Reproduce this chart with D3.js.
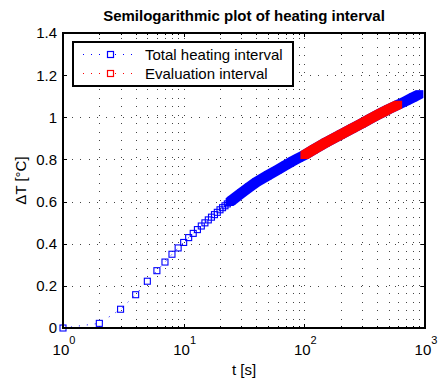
<!DOCTYPE html>
<html lang="en">
<meta charset="utf-8"/>
<head>
<script src="https://d3js.org/d3.v7.min.js"></script>
</head>

<style>
  body { margin: 0; background: #fff; }
  text { font-family: Arial, "Liberation Sans", Helvetica, sans-serif; fill: #000; }
  .grid line { stroke: #444; stroke-width: 1; stroke-dasharray: 1,7.5; shape-rendering: crispEdges; }
  .frame { fill: none; stroke: #000; stroke-width: 1.5; shape-rendering: crispEdges; }
  .tick { stroke: #000; stroke-width: 1; shape-rendering: crispEdges; }
</style>
<body>
<script>
// values: time [s] and temperature rise [°C]
var tEarly  = [1, 2, 3, 4, 5, 6, 7, 8, 9, 10, 11, 12, 13, 14, 15, 16, 17, 18, 19, 20, 21, 22, 23, 24];
var dtEarly = [0.000, 0.022, 0.089, 0.158, 0.222, 0.272, 0.313, 0.350, 0.380, 0.406, 0.429, 0.449,
               0.467, 0.484, 0.499, 0.513, 0.526, 0.538, 0.549, 0.561, 0.571, 0.580, 0.589, 0.597];
var tLate  = [25, 30, 35, 40, 50, 60, 70, 80, 90, 100, 120, 150, 200, 250, 300, 350, 400, 450, 500, 600, 700, 800, 900];
var dtLate = [0.605, 0.640, 0.669, 0.692, 0.725, 0.750, 0.773, 0.792, 0.807, 0.820, 0.848, 0.880,
              0.918, 0.947, 0.971, 0.992, 1.010, 1.025, 1.039, 1.060, 1.078, 1.095, 1.110];
var evalStart = 100, evalEnd = 600;
var denseFrom = 24;

var yTicks = [0, 0.2, 0.4, 0.6, 0.8, 1, 1.2, 1.4];
var yTickLabels = ["0", "0.2", "0.4", "0.6", "0.8", "1", "1.2", "1.4"];
var xTicks = [1, 10, 100, 1000];
var xTickExp = ["0", "1", "2", "3"];
var legendLabels = ["Total heating interval", "Evaluation interval"];
var seriesColors = ["#0000ff", "#ff0000"];

var W = 441, H = 378;
var margin = {top: 33, right: 16, bottom: 50, left: 63};

var svg = d3.select("body").append("svg")
    .attr("width", W)
    .attr("height", H);

var x = d3.scaleLog().domain([1, 1000]).range([margin.left, W - margin.right]);
var y = d3.scaleLinear().domain([0, 1.4]).range([H - margin.bottom, margin.top]);

var x0 = x.range()[0], x1 = x.range()[1], y0 = y.range()[0], y1 = y.range()[1];

// minor positions of the log axis
var minorX = [];
[1, 10, 100].forEach(function(d) {
  for (var k = 2; k <= 9; k++) minorX.push(d * k);
});

// grid
var grid = svg.append("g").attr("class", "grid");
grid.selectAll(".gx").data(minorX.concat([10, 100])).enter().append("line")
    .attr("x1", function(d) { return Math.round(x(d)) + 0.5; })
    .attr("x2", function(d) { return Math.round(x(d)) + 0.5; })
    .attr("y1", y0).attr("y2", y1);
grid.selectAll(".gy").data(yTicks.slice(1, -1)).enter().append("line")
    .attr("x1", x0).attr("x2", x1)
    .attr("y1", function(d) { return Math.round(y(d)) + 0.5; })
    .attr("y2", function(d) { return Math.round(y(d)) + 0.5; });

// ticks (inside, all four sides)
var ticks = svg.append("g");
yTicks.forEach(function(d) {
  var yy = Math.round(y(d)) + 0.5;
  ticks.append("line").attr("class", "tick").attr("x1", x0).attr("x2", x0 + 4).attr("y1", yy).attr("y2", yy);
  ticks.append("line").attr("class", "tick").attr("x1", x1 - 4).attr("x2", x1).attr("y1", yy).attr("y2", yy);
});
xTicks.concat(minorX).forEach(function(d) {
  var xx = Math.round(x(d)) + 0.5;
  var len = xTicks.indexOf(d) >= 0 ? 4 : 2;
  ticks.append("line").attr("class", "tick").attr("x1", xx).attr("x2", xx).attr("y1", y0).attr("y2", y0 - len);
  ticks.append("line").attr("class", "tick").attr("x1", xx).attr("x2", xx).attr("y1", y1).attr("y2", y1 + len);
});

// data
var all = tEarly.map(function(t, i) { return [t, dtEarly[i]]; })
    .concat(tLate.map(function(t, i) { return [t, dtLate[i]]; }));
var evalPts = all.filter(function(d) { return d[0] >= evalStart && d[0] <= evalEnd; });

var h = 3.5;   // half of the outer marker size
var hb = 3.9;  // half size used for the dense band

function sweep(g, pts, color) {
  var px = pts.map(function(d) { return [x(d[0]), y(d[1])]; });
  for (var i = 0; i < px.length - 1; i++) {
    var corners = [];
    [px[i], px[i + 1]].forEach(function(c) {
      corners.push([c[0] - hb, c[1] - hb], [c[0] + hb, c[1] - hb], [c[0] + hb, c[1] + hb], [c[0] - hb, c[1] + hb]);
    });
    var hull = d3.polygonHull(corners);
    g.append("path").attr("d", "M" + hull.join("L") + "Z").attr("fill", color);
  }
}

var plot = svg.append("g");

plot.append("path")
    .datum(all)
    .attr("fill", "none")
    .attr("stroke", seriesColors[0])
    .attr("stroke-width", 1)
    .attr("stroke-dasharray", "1,7")
    .attr("d", d3.line().x(function(d) { return x(d[0]); }).y(function(d) { return y(d[1]); }));

plot.selectAll(".m").data(all).enter().append("rect")
    .attr("x", function(d) { return x(d[0]) - h + 0.5; })
    .attr("y", function(d) { return y(d[1]) - h + 0.5; })
    .attr("width", 2 * h - 1).attr("height", 2 * h - 1)
    .attr("fill", "none")
    .attr("stroke", seriesColors[0])
    .attr("stroke-width", 1.1);

sweep(plot, all.filter(function(d) { return d[0] >= denseFrom; }), seriesColors[0]);
sweep(plot, evalPts, seriesColors[1]);

// frame
svg.append("rect").attr("class", "frame")
    .attr("x", x0).attr("y", y1).attr("width", x1 - x0).attr("height", y0 - y1);

// tick labels
svg.selectAll(".yl").data(yTicks).enter().append("text")
    .attr("x", x0 - 6)
    .attr("y", function(d) { return y(d); })
    .attr("dy", "0.36em")
    .attr("text-anchor", "end")
    .style("font-size", "15px")
    .text(function(d, i) { return yTickLabels[i]; });

var xl = svg.selectAll(".xl").data(xTicks).enter().append("text")
    .attr("x", function(d) { return x(d) + 1; })
    .attr("y", 355)
    .attr("text-anchor", "middle")
    .style("font-size", "15px");
xl.append("tspan").text("10");
xl.append("tspan").attr("dy", -11).style("font-size", "11px").text(function(d, i) { return xTickExp[i]; });

// title and axis labels
svg.append("text")
    .attr("x", (x0 + x1) / 2).attr("y", 21)
    .attr("text-anchor", "middle")
    .style("font-size", "15px").style("font-weight", "bold")
    .text("Semilogarithmic plot of heating interval");

svg.append("text")
    .attr("x", (x0 + x1) / 2).attr("y", 375)
    .attr("text-anchor", "middle")
    .style("font-size", "15px")
    .text("t [s]");

svg.append("text")
    .attr("transform", "translate(26," + ((y0 + y1) / 2) + ") rotate(-90)")
    .attr("text-anchor", "middle")
    .style("font-size", "15px")
    .text("ΔT [°C]");

// legend
var lg = svg.append("g");
lg.append("rect")
    .attr("x", 73).attr("y", 42).attr("width", 220).attr("height", 44)
    .attr("fill", "#fff").attr("stroke", "#000").attr("stroke-width", 2);
legendLabels.forEach(function(label, i) {
  var yy = 54.5 + i * 19;
  lg.append("line")
      .attr("x1", 83).attr("x2", 138).attr("y1", yy).attr("y2", yy)
      .attr("stroke", seriesColors[i]).attr("stroke-width", 1)
      .attr("stroke-dasharray", "1,7");
  lg.append("rect")
      .attr("x", 107.5).attr("y", yy - 3).attr("width", 6).attr("height", 6)
      .attr("fill", "#fff").attr("stroke", seriesColors[i]).attr("stroke-width", 1.2);
  lg.append("text")
      .attr("x", 145).attr("y", yy + 5)
      .style("font-size", "15px")
      .text(label);
});
</script>
</body>
</html>
